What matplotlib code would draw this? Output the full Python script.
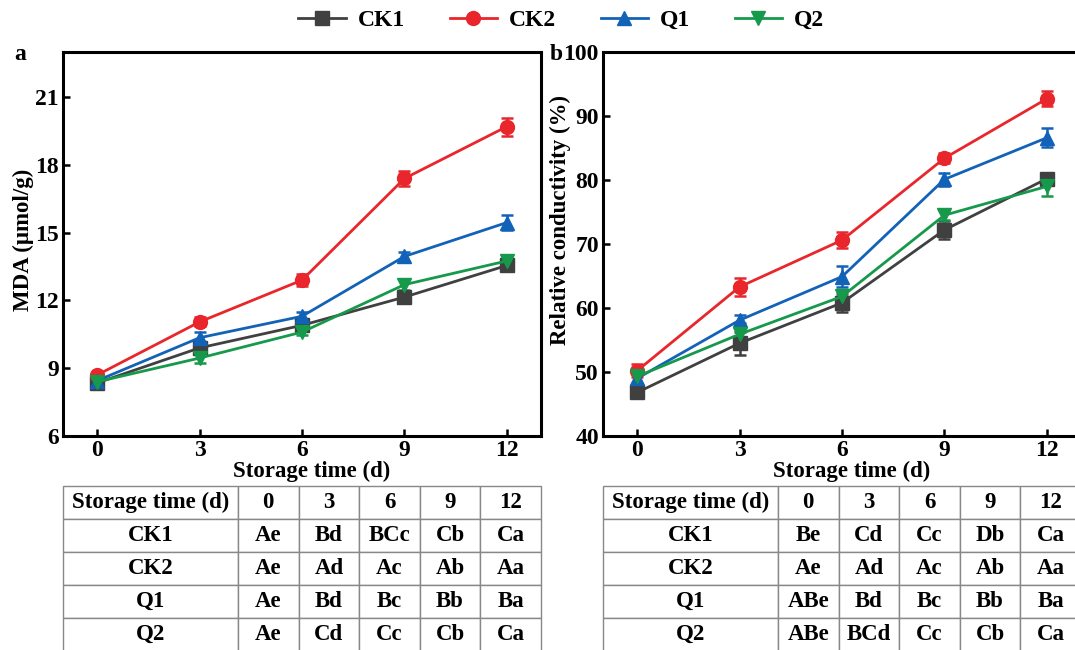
import matplotlib
matplotlib.use("Agg")
import matplotlib.pyplot as plt
from matplotlib.lines import Line2D

plt.rcParams['font.family'] = ['Liberation Serif', 'DejaVu Serif']
plt.rcParams['font.weight'] = 'bold'
plt.rcParams['axes.labelweight'] = 'bold'

# data
days = [0, 3, 6, 9, 12]
groups = ['CK1', 'CK2', 'Q1', 'Q2']
colors = ['#404040', '#e8262c', '#1262b8', '#16994a']
markers = ['s', 'o', '^', 'v']

mda_ck1 = [8.35, 9.9, 10.9, 12.15, 13.55]
mda_ck2 = [8.7, 11.05, 12.9, 17.4, 19.7]
mda_q1 = [8.45, 10.35, 11.3, 13.95, 15.45]
mda_q2 = [8.4, 9.45, 10.6, 12.7, 13.75]
mda_err_ck1 = [0.15, 0.15, 0.15, 0.2, 0.2]
mda_err_ck2 = [0.15, 0.2, 0.25, 0.35, 0.4]
mda_err_q1 = [0.15, 0.25, 0.2, 0.2, 0.35]
mda_err_q2 = [0.15, 0.2, 0.15, 0.25, 0.2]

rc_ck1 = [46.8, 54.5, 60.8, 72.2, 80.2]
rc_ck2 = [50.2, 63.3, 70.6, 83.4, 92.7]
rc_q1 = [49.0, 58.1, 64.9, 80.1, 86.6]
rc_q2 = [49.3, 55.9, 61.8, 74.5, 79.0]
rc_err_ck1 = [0.8, 1.8, 1.4, 1.4, 0.8]
rc_err_ck2 = [1.0, 1.4, 1.2, 0.8, 1.2]
rc_err_q1 = [1.5, 0.8, 1.6, 1.0, 1.5]
rc_err_q2 = [1.2, 1.8, 1.0, 0.8, 1.5]

table_header = ['Storage time (d)', '0', '3', '6', '9', '12']
letters_a = [['Ae', 'Bd', 'BCc', 'Cb', 'Ca'],
             ['Ae', 'Ad', 'Ac', 'Ab', 'Aa'],
             ['Ae', 'Bd', 'Bc', 'Bb', 'Ba'],
             ['Ae', 'Cd', 'Cc', 'Cb', 'Ca']]
letters_b = [['Be', 'Cd', 'Cc', 'Db', 'Ca'],
             ['Ae', 'Ad', 'Ac', 'Ab', 'Aa'],
             ['ABe', 'Bd', 'Bc', 'Bb', 'Ba'],
             ['ABe', 'BCd', 'Cc', 'Cb', 'Ca']]

W, H = 1075, 650
fig = plt.figure(figsize=(W / 100, H / 100), dpi=100)


def px_axes(x0, y0, x1, y1):
    # pixel box (top-left origin) -> figure axes
    return fig.add_axes([x0 / W, 1 - y1 / H, (x1 - x0) / W, (y1 - y0) / H])


def style(ax):
    for s in ax.spines.values():
        s.set_linewidth(2.2)
    ax.tick_params(direction='in', length=5, width=1.8, labelsize=17, pad=3)
    ax.set_xlim(-1, 13)
    ax.set_xticks(days)
    for lab in ax.get_xticklabels() + ax.get_yticklabels():
        lab.set_fontweight('bold')


def draw(ax, series, errs):
    for vals, err, c, m in zip(series, errs, colors, markers):
        ax.errorbar(days, vals, yerr=err, color=c, marker=m, markersize=10,
                    linewidth=2, elinewidth=1.8, capsize=4, capthick=1.8)


def draw_table(ax, rows):
    ax.axis('off')
    cells = [table_header] + [[g] + r for g, r in zip(groups, rows)]
    tw = 175 / 478
    cw = (1 - tw) / 5
    tb = ax.table(cellText=cells, bbox=[0, 0, 1, 1], cellLoc='center',
                  colWidths=[tw] + [cw] * 5)
    tb.auto_set_font_size(False)
    for cell in tb.get_celld().values():
        cell.set_edgecolor('#888888')
        cell.set_linewidth(1.0)
        cell.get_text().set_fontsize(16.5)
        cell.get_text().set_fontweight('bold')


# panel a
ax1 = px_axes(63, 52, 541, 436)
draw(ax1, [mda_ck1, mda_ck2, mda_q1, mda_q2],
     [mda_err_ck1, mda_err_ck2, mda_err_q1, mda_err_q2])
ax1.set_ylim(6, 23)
ax1.set_yticks([6, 9, 12, 15, 18, 21])
style(ax1)
ax1.set_ylabel('MDA (μmol/g)', fontsize=16.5)
ax1.yaxis.set_label_coords(-0.061, 0.51)
ax1.set_xlabel('Storage time (d)', fontsize=16.5)
ax1.xaxis.set_label_coords(0.52, -0.064)

# panel b
ax2 = px_axes(603, 52, 1081, 436)
draw(ax2, [rc_ck1, rc_ck2, rc_q1, rc_q2],
     [rc_err_ck1, rc_err_ck2, rc_err_q1, rc_err_q2])
ax2.set_ylim(40, 100)
ax2.set_yticks([40, 50, 60, 70, 80, 90, 100])
style(ax2)
ax2.set_ylabel('Relative conductivity (%)', fontsize=16.5)
ax2.yaxis.set_label_coords(-0.067, 0.5625)
ax2.set_xlabel('Storage time (d)', fontsize=16.5)
ax2.xaxis.set_label_coords(0.52, -0.064)

fig.text(20 / W, 1 - 55 / H, 'a', fontsize=17, fontweight='bold', ha='center', va='center')
fig.text(556 / W, 1 - 54 / H, 'b', fontsize=17, fontweight='bold', ha='center', va='center')

# tables
draw_table(px_axes(63, 486, 541, 651), letters_a)
draw_table(px_axes(603, 486, 1081, 651), letters_b)

handles = [Line2D([], [], color=c, marker=m, markersize=10, linewidth=2)
           for c, m in zip(colors, markers)]
fig.legend(handles, groups, loc='center', bbox_to_anchor=(0.522, 1 - 20 / H),
           ncol=4, frameon=False, prop={'size': 17, 'weight': 'bold'},
           handlelength=2.0, handletextpad=0.5, columnspacing=1.9)

fig.savefig('out.png', dpi=100)
